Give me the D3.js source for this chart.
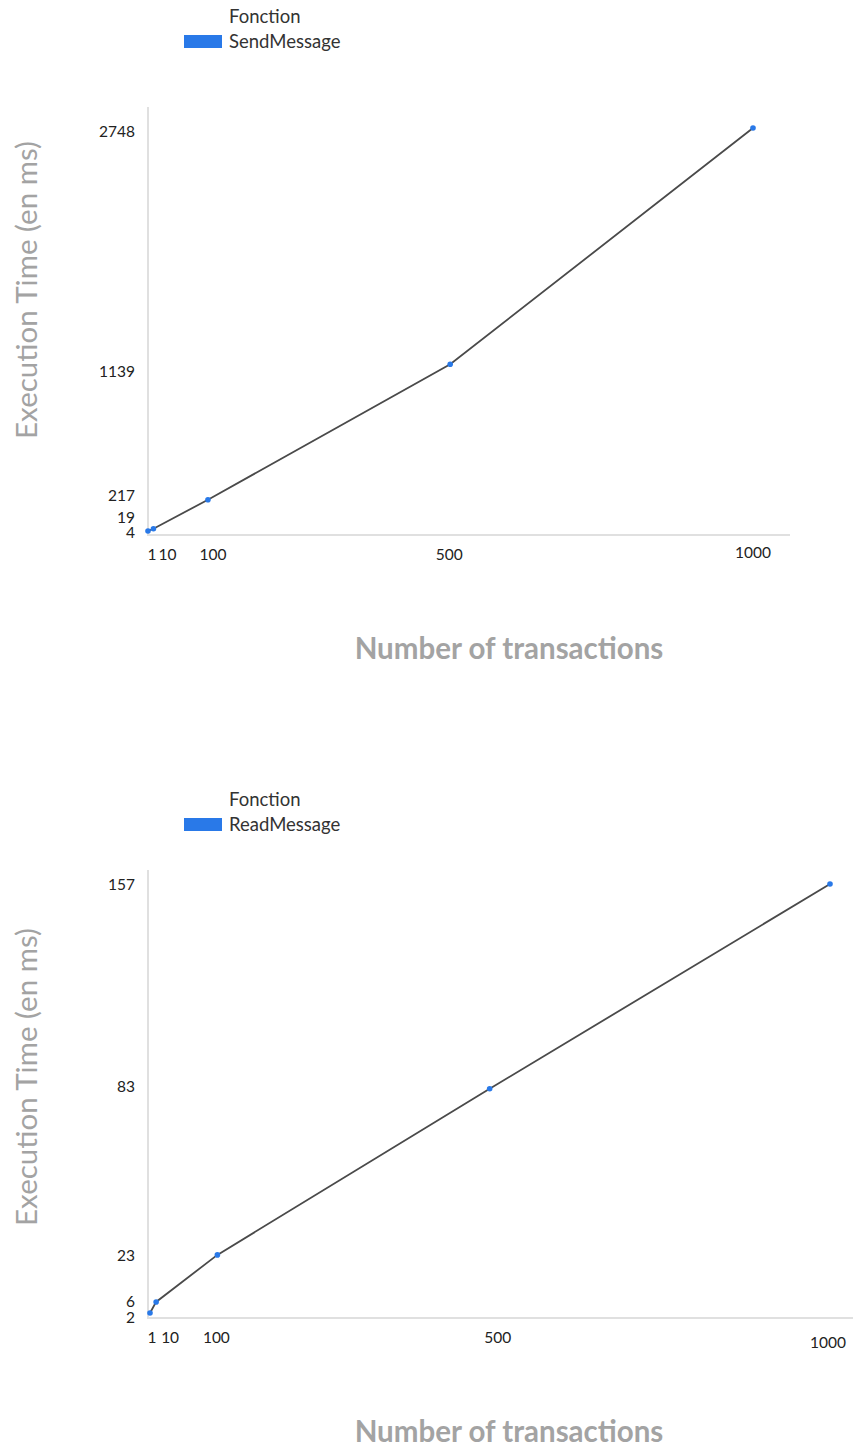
<!DOCTYPE html>
<html>
<head>
<meta charset="utf-8">
<script src="https://cdn.jsdelivr.net/npm/d3@7"></script>
<style>
  html, body { margin: 0; padding: 0; background: #fff; }
  svg { display: block; font-family: Lato, "Open Sans", sans-serif; }
</style>
</head>
<body>
<svg id="chart" width="853" height="1448"></svg>
<script>
// ---- Data ----
const transactions = [1, 10, 100, 500, 1000];
const sendMessageTimes = [4, 19, 217, 1139, 2748];
const readMessageTimes = [2, 6, 23, 83, 157];
const xTickLabels = ["1", "10", "100", "500", "1000"];
const sendYTickLabels = ["4", "19", "217", "1139", "2748"];
const readYTickLabels = ["2", "6", "23", "83", "157"];
const legendTitle = "Fonction";
const seriesNames = ["SendMessage", "ReadMessage"];
const xAxisTitle = "Number of transactions";
const yAxisTitle = "Execution Time (en ms)";

// ---- Layout / style per panel ----
const panels = [
  {
    name: seriesNames[0], values: sendMessageTimes, yLabels: sendYTickLabels,
    offsetY: 0,
    xRange: [148, 753], yRange: [531, 128],
    xAxisEnd: 790, yAxisTop: 107,
    xLabelDx: [4, 14, 5, -1, 0], xLabelDy: [0, 0, 0, 0, -2],
    yLabelDy: [2, -11, -4, 7, 4],
    yTitleY: 290
  },
  {
    name: seriesNames[1], values: readMessageTimes, yLabels: readYTickLabels,
    offsetY: 783,
    xRange: [150, 830], yRange: [530, 101],
    xAxisEnd: 853, yAxisTop: 87,
    xLabelDx: [2, 14, -1, 8, -2], xLabelDy: [0, 0, 0, 0, 5],
    yLabelDy: [5, 0, 1, -2, 1],
    yTitleY: 294
  }
];

const svg = d3.select("#chart");
const blue = "#2979e8";

panels.forEach(p => {
  const g = svg.append("g").attr("transform", `translate(0,${p.offsetY})`);
  const x = d3.scaleLinear().domain([transactions[0], transactions[transactions.length - 1]]).range(p.xRange);
  const y = d3.scaleLinear().domain([p.values[0], p.values[p.values.length - 1]]).range(p.yRange);

  // Legend
  g.append("text").attr("x", 229).attr("y", 23).attr("font-size", 18.5).attr("fill", "#333").text(legendTitle);
  g.append("rect").attr("x", 184).attr("y", 35).attr("width", 38).attr("height", 13).attr("fill", blue);
  g.append("text").attr("x", 229).attr("y", 48).attr("font-size", 18.5).attr("fill", "#333").text(p.name);

  // Axis lines
  g.append("line").attr("x1", 148).attr("x2", 148).attr("y1", p.yAxisTop).attr("y2", 536)
    .attr("stroke", "#e0e0e0").attr("stroke-width", 2);
  g.append("line").attr("x1", 147).attr("x2", p.xAxisEnd).attr("y1", 535).attr("y2", 535)
    .attr("stroke", "#e0e0e0").attr("stroke-width", 2);

  // X tick labels
  g.append("g").selectAll("text").data(transactions).join("text")
    .attr("x", (d, i) => x(d) + p.xLabelDx[i])
    .attr("y", (d, i) => 555 + p.xLabelDy[i])
    .attr("dy", "0.35em")
    .attr("text-anchor", "middle")
    .attr("font-size", 15.5).attr("fill", "#222")
    .text((d, i) => xTickLabels[i]);

  // Y tick labels
  g.append("g").selectAll("text").data(p.values).join("text")
    .attr("x", 135)
    .attr("y", (d, i) => y(d) + p.yLabelDy[i])
    .attr("dy", "0.35em")
    .attr("text-anchor", "end")
    .attr("font-size", 15.5).attr("fill", "#222")
    .text((d, i) => p.yLabels[i]);

  // Line
  const line = d3.line().x((d, i) => x(transactions[i])).y(d => y(d));
  g.append("path").datum(p.values).attr("d", line)
    .attr("fill", "none").attr("stroke", "#4a4a4a").attr("stroke-width", 1.8);

  // Points
  g.append("g").selectAll("circle").data(p.values).join("circle")
    .attr("cx", (d, i) => x(transactions[i])).attr("cy", d => y(d))
    .attr("r", 2.8).attr("fill", blue);

  // Axis titles
  g.append("text").attr("x", 509).attr("y", 649).attr("dy", "0.35em")
    .attr("text-anchor", "middle").attr("font-size", 29.5).attr("font-weight", "bold")
    .attr("fill", "#a3a3a3").text(xAxisTitle);
  g.append("text").attr("transform", `translate(27,${p.yTitleY}) rotate(-90)`)
    .attr("dy", "0.35em").attr("text-anchor", "middle").attr("font-size", 29.5)
    .attr("fill", "#a3a3a3").text(yAxisTitle);
});
</script>
</body>
</html>
